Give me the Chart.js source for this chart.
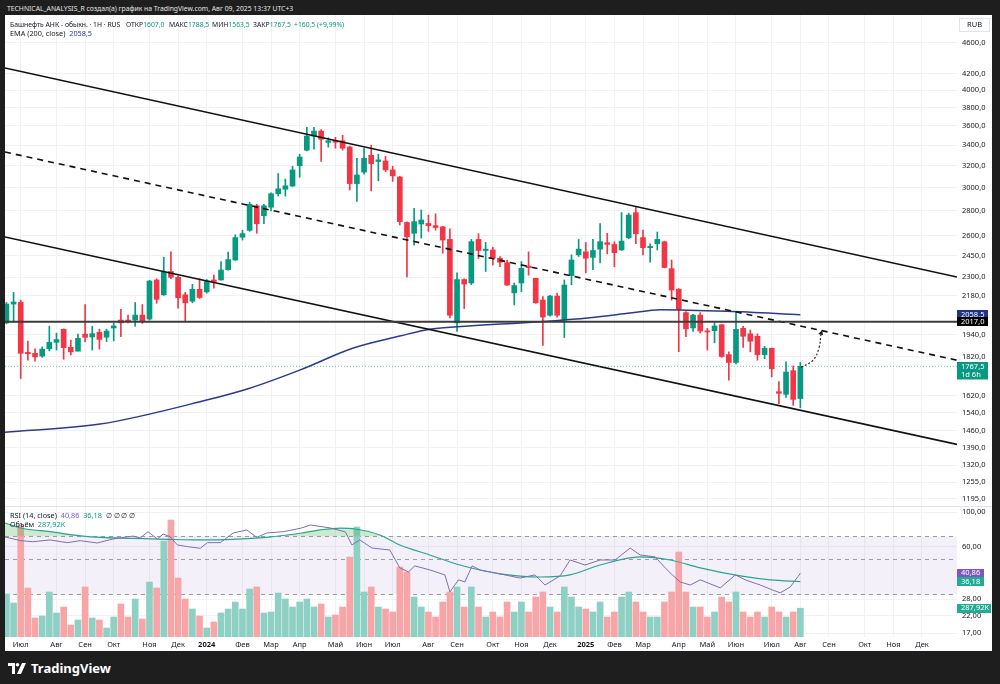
<!DOCTYPE html>
<html>
<head>
<meta charset="utf-8">
<script src="https://cdn.jsdelivr.net/npm/chart.js@4.4.1/dist/chart.umd.min.js"></script>
<style>
  body { margin: 0; width: 1000px; height: 684px; background: #1e1e1e; overflow: hidden; position: relative; font-family: "Noto Sans", sans-serif; }
  #head { position: absolute; left: 7px; top: 4px; color: #e6e6e6; font-size: 6.8px; white-space: pre; }
  #card { position: absolute; left: 5px; top: 15px; width: 987px; height: 636px; background: #fff; }
  #sep { position: absolute; left: 5px; top: 506px; width: 987px; height: 1px; background: #e0e3eb; }
  #main { position: absolute; left: 5px; top: 15px; }
  #lower { position: absolute; left: 5px; top: 507px; }
  .lg { position: absolute; font-size: 7.3px; color: #131722; white-space: pre; }
  .l1 { font-size: 6.8px; top: 19.5px; }
  .g { color: #089981; }
  .b { color: #2a3a8f; }
  .p { color: #7e57c2; }
  #logo { position: absolute; left: 8px; top: 659px; color: #fff; font-size: 13px; font-weight: bold; display: flex; align-items: center; gap: 5px; }
</style>
</head>
<body>
<div id="head">TECHNICAL_ANALYSIS_R создал(а) график на TradingView.com, Авг 09, 2025 13:37 UTC+3</div>
<div id="card"></div>
<canvas id="main" width="987" height="492"></canvas>
<div id="sep"></div>
<canvas id="lower" width="987" height="144"></canvas>
<div class="lg l1" style="left:10px">Башнефть АНК - обыкн. · 1Н · RUS</div>
<div class="lg l1" style="left:126px">ОТКР<span class="g">1607,0</span></div>
<div class="lg l1" style="left:169px">МАКС<span class="g">1788,5</span></div>
<div class="lg l1" style="left:212px">МИН<span class="g">1563,5</span></div>
<div class="lg l1" style="left:253px">ЗАКР<span class="g">1767,5</span></div>
<div class="lg l1 g" style="left:294px">+160,5 (+9,99%)</div>
<div class="lg" style="left:10px;top:28px">EMA (200, close)  <span class="b">2058,5</span></div>
<div class="lg" style="left:10px;top:510px">RSI (14, close)  <span class="p">40,86</span>  <span class="g">36,18</span>  ∅ ∅ ∅ ∅</div>
<div class="lg" style="left:10px;top:519px">Объём  <span class="g">287,92K</span></div>
<div id="logo">
  <svg width="18" height="11" viewBox="0 0 18 11"><path d="M0 0h7v11H4V3H0z" fill="#fff"/><circle cx="9.5" cy="1.8" r="1.8" fill="#fff"/><path d="M14 0h4l-5 11H9z" fill="#fff"/></svg>
  <span>TradingView</span>
</div>

<script>
// Weekly candles, first one is the week of 19 Jun 2023 (index -2), week 0 = 3 Jul 2023
const firstWeek = -2;
const opens = [2010, 2125, 2136, 1842, 1837, 1822, 1862, 1898, 1972, 1870,
  1849, 1944, 1928, 1955, 1927, 1980, 2027, 2027, 2027, 2057,
  2033, 2282, 2184, 2340, 2300, 2184, 2143, 2220, 2203, 2282,
  2282, 2352, 2421, 2590, 2643, 2842, 2760, 2830, 2945, 2985,
  3013, 3200, 3350, 3493, 3545, 3428, 3445, 3445, 3382, 3035,
  3140, 3300, 3240, 3245, 3160, 3095, 2705, 2620, 2693, 2697,
  2680, 2670, 2573, 2010, 2285, 2262, 2573, 2490, 2494, 2434,
  2402, 2197, 2262, 2378, 2293, 2150, 2056, 2176, 2027, 2312,
  2458, 2480, 2440, 2500, 2548, 2535, 2494, 2585, 2785, 2587,
  2511, 2540, 2555, 2360, 2220, 2072, 1980, 2057, 1963, 1964,
  1999, 1830, 1788, 1978, 1946, 1932, 1830, 1865, 1640, 1627,
  1745, 1607];
const highs = [2135, 2200, 2150, 1905, 1862, 1872, 1990, 1950, 1975, 1910,
  1944, 2122, 1990, 1973, 1973, 2008, 2092, 2057, 2135, 2122,
  2280, 2290, 2440, 2480, 2310, 2200, 2253, 2290, 2285, 2315,
  2410, 2478, 2608, 2643, 2870, 2855, 2855, 2952, 3127, 3075,
  3195, 3310, 3585, 3585, 3560, 3475, 3480, 3500, 3390, 3270,
  3370, 3400, 3310, 3290, 3195, 3100, 2710, 2820, 2807, 2765,
  2775, 2675, 2655, 2330, 2290, 2573, 2617, 2550, 2514, 2445,
  2421, 2262, 2410, 2480, 2295, 2172, 2180, 2195, 2282, 2458,
  2573, 2550, 2573, 2697, 2620, 2556, 2785, 2780, 2830, 2645,
  2540, 2630, 2560, 2421, 2225, 2078, 2061, 2072, 1978, 2010,
  2000, 1845, 2078, 1990, 1968, 1946, 1875, 1865, 1690, 1792,
  1770, 1788.5];
const lows = [2005, 2015, 1705, 1800, 1795, 1815, 1850, 1855, 1805, 1828,
  1849, 1900, 1855, 1860, 1902, 1906, 1930, 2010, 1990, 2007,
  2027, 2130, 2180, 2290, 2100, 2020, 2133, 2160, 2195, 2228,
  2280, 2350, 2418, 2568, 2635, 2620, 2695, 2800, 2925, 2925,
  3008, 3092, 3343, 3360, 3240, 3380, 3370, 3350, 2978, 2880,
  3120, 2970, 3060, 3145, 3055, 2685, 2303, 2530, 2583, 2635,
  2645, 2470, 2040, 1960, 2097, 2250, 2432, 2340, 2385, 2373,
  2245, 2120, 2205, 2315, 2130, 1880, 2050, 2045, 1925, 2250,
  2446, 2330, 2352, 2400, 2465, 2373, 2490, 2578, 2540, 2458,
  2405, 2494, 2365, 2150, 1846, 1930, 1960, 1950, 1855, 1895,
  1815, 1697, 1780, 1870, 1845, 1800, 1808, 1713, 1582, 1612,
  1575, 1563.5];
const closes = [2125, 2138, 1837, 1835, 1818, 1860, 1898, 1913, 1868, 1845,
  1920, 1926, 1947, 1914, 1962, 1992, 2010, 2019, 2057, 2021,
  2275, 2155, 2335, 2300, 2165, 2133, 2220, 2167, 2275, 2272,
  2350, 2424, 2587, 2617, 2855, 2695, 2842, 2945, 2988, 3015,
  3160, 3283, 3493, 3545, 3460, 3445, 3430, 3370, 3035, 3113,
  3270, 3220, 3255, 3160, 3105, 2712, 2593, 2712, 2725, 2680,
  2665, 2568, 2056, 2285, 2255, 2556, 2490, 2500, 2434, 2405,
  2248, 2245, 2362, 2367, 2133, 2045, 2176, 2056, 2248, 2421,
  2500, 2434, 2490, 2556, 2535, 2474, 2560, 2765, 2617, 2511,
  2520, 2573, 2368, 2215, 2092, 1975, 2057, 1962, 1957, 1992,
  1820, 1788, 1972, 1932, 1904, 1830, 1865, 1755, 1632, 1738,
  1603, 1767.5];
// Volume in thousands of shares
const volumes = [430, 340, 1120, 490, 190, 210, 450, 240, 300, 120,
  170, 500, 190, 170, 90, 200, 330, 200, 380, 180,
  550, 490, 960, 1170, 590, 380, 280, 210, 90, 150,
  240, 280, 350, 280, 480, 500, 240, 250, 440, 380,
  300, 350, 380, 300, 330, 200, 220, 300, 800, 1100,
  450, 500, 300, 280, 250, 700, 650, 400, 300, 250,
  200, 350, 450, 500, 300, 500, 300, 200, 250, 200,
  350, 250, 350, 250, 400, 450, 300, 250, 500, 400,
  300, 280, 250, 350, 200, 250, 400, 450, 350, 250,
  200, 200, 350, 450, 850, 450, 300, 300, 200, 250,
  400, 350, 450, 250, 200, 250, 200, 300, 250, 200,
  250, 287.92];

// EMA 200 read at a few weeks
const emaWeeks = [-2.2, 11.1, 26, 32, 39, 46.5, 53, 57.2, 61, 72.6, 79.6, 85.2, 89.4, 98.8, 109];
const emaValues = [1455, 1490, 1600, 1657, 1748, 1866, 1933, 1973, 1987, 2017, 2041, 2069, 2090, 2080, 2058.5];

// RSI and its moving average read at a few weeks
const rsiWeeks = [-2.2, 0, 1.7, 4.1, 6.5, 8.3, 10.7, 12.9, 15.7, 16.7, 17.8, 19.1, 19.9, 20.9, 21.9, 23.3,
  25.1, 26.1, 27.9, 29.7, 31.6, 33, 34.4, 36.7, 39.1, 40.5, 43.3, 45.4, 46.3, 47.4, 49.1, 51.6,
  53, 54.2, 55.1, 57.2, 59.3, 60, 61.2, 62.1, 63.1, 64.2, 67, 69.8, 71.9, 73.3, 75.4, 76.8,
  78.9, 81, 83.1, 85.2, 86.6, 88.7, 90.1, 91.1, 92.2, 93.6, 95, 97.8, 99.9, 101.3, 103.4,
  105.1, 106.2, 107.6, 109];
const rsiValues = [69.4, 65.8, 64.8, 66.5, 63.9, 65.8, 63.6, 67.4, 70.4, 68.4, 75.0, 67.4, 72.5, 69.7, 61.8, 60.3,
  58.9, 63.9, 63.9, 73.6, 76.9, 69.1, 73.6, 75.0, 78.8, 82.7, 79.2, 74.7, 61.8, 66.5, 59.1, 57.4,
  44.2, 41.7, 45.5, 42.9, 39.9, 31.1, 37.1, 36.0, 45.5, 42.9, 40.5, 38.1, 39.9, 34.4, 39.3, 49.6,
  46.1, 49.6, 49.6, 59.1, 53.4, 51.9, 44.2, 39.9, 36.0, 34.4, 37.1, 33.0, 39.9, 37.1, 34.4,
  32.0, 30.7, 33.5, 40.86];
const rsiMaWeeks = [-2.2, 0, 4.1, 8.7, 11.1, 15.7, 20.5, 25.1, 29.7, 34.4, 39.1, 41.9, 44.7, 46.8, 50.2,
  53, 57.2, 61.4, 67, 72.6, 76.8, 81, 86.6, 90.8, 95, 100.6, 104.8, 109];
const rsiMaValues = [85.2, 79.2, 75.0, 70.4, 69.1, 68.1, 67.1, 66.5, 67.1, 69.1, 73.3, 77.0, 79.0, 78.0, 71.5,
  61.8, 53.4, 46.1, 40.5, 38.7, 39.9, 46.1, 51.9, 49.6, 44.2, 39.3, 37.1, 36.18];

// Channel lines drawn on the chart (start / end week and price)
const lineWeeks = [-2.2, 130.9];
const upperLine = [4272, 2302];
const middleLine = [3332, 1800];
const lowerLine = [2591, 1403];
const levelPrice = 2017;
const lastPrice = 1767.5;
const arrowWeeks = [109.1, 110.8, 111.6, 111.9];
const arrowPrices = [1762, 1801, 1866, 1950];

// Axis ticks
const priceTicks = [4600, 4200, 4000, 3800, 3600, 3400, 3200, 3000, 2800, 2600, 2450, 2300, 2180,
  1940, 1820, 1620, 1540, 1460, 1390, 1320, 1255, 1195];
const rsiTicks = [100, 60, 28, 22, 17];
const monthWeeks = [0, 5, 9, 13, 18, 22, 26, 31, 35, 39, 44, 48, 52, 57, 61, 66, 70, 74, 79, 83, 87,
  92, 96, 100, 105, 109, 113, 118, 122, 126];
const monthLabels = ['Июл', 'Авг', 'Сен', 'Окт', 'Ноя', 'Дек', '2024', 'Фев', 'Мар', 'Апр', 'Май', 'Июн',
  'Июл', 'Авг', 'Сен', 'Окт', 'Ноя', 'Дек', '2025', 'Фев', 'Мар', 'Апр', 'Май', 'Июн', 'Июл', 'Авг',
  'Сен', 'Окт', 'Ноя', 'Дек'];

const GREEN = '#089981';
const RED = '#f23645';
const GREEN_VOL = '#8fd0c5';
const RED_VOL = '#f8a5a8';
const GRID = '#f1f2f6';
const FONT = '"Noto Sans", sans-serif';
const FS = 7.5;
const X_MIN = -2.2;
const X_MAX = 130.9;
const AXIS_W = 35;

const isUp = closes.map((c, i) => c >= opens[i]);
const wk = i => firstWeek + i;
const comma = (v, d) => v.toFixed(d).replace('.', ',');

// Tags on the price scale
const tagPlugin = {
  id: 'tags',
  afterDraw(chart, args, opts) {
    const ctx = chart.ctx;
    const area = chart.chartArea;
    ctx.save();
    ctx.textBaseline = 'middle';
    ctx.font = FS + 'px ' + FONT;
    if (opts.unit) {
      ctx.strokeStyle = '#e0e3eb';
      ctx.strokeRect(area.right + 2.5, 3.5, 30, 13);
      ctx.fillStyle = '#131722';
      ctx.fillText(opts.unit, area.right + 10, 10);
    }
    (opts.items || []).forEach(t => {
      const y = chart.scales[t.axis].getPixelForValue(t.value);
      const lines = t.text.split('\n');
      const h = 8.5 * lines.length + 0.5;
      ctx.fillStyle = t.bg;
      ctx.fillRect(area.right, Math.round(y - 4.5), t.w, h);
      ctx.fillStyle = '#fff';
      lines.forEach((l, k) => ctx.fillText(l, area.right + 4, y + k * 8.5));
    });
    ctx.restore();
  }
};

// RSI band and dashed levels
const bandPlugin = {
  id: 'band',
  beforeDatasetsDraw(chart) {
    const ctx = chart.ctx;
    const area = chart.chartArea;
    const s = chart.scales.rsi;
    const y70 = s.getPixelForValue(70);
    const y30 = s.getPixelForValue(30);
    ctx.save();
    ctx.fillStyle = 'rgba(126, 87, 194, 0.09)';
    ctx.fillRect(area.left, y70, area.right - area.left, y30 - y70);
    ctx.strokeStyle = '#9a9ca6';
    ctx.lineWidth = 1;
    ctx.setLineDash([4, 4]);
    [70, 50, 30].forEach(v => {
      const y = Math.round(s.getPixelForValue(v)) + 0.5;
      ctx.beginPath();
      ctx.moveTo(area.left, y);
      ctx.lineTo(area.right, y);
      ctx.stroke();
    });
    ctx.restore();
  }
};

function monthTicks(scale) {
  scale.ticks = monthWeeks.filter(w => w >= X_MIN && w <= X_MAX).map(w => ({ value: w }));
}

function fixedWidth(scale) {
  scale.width = AXIS_W;
  scale.paddingTop = 0;
  scale.paddingBottom = 0;
}

function twoPointLine(values, color, width, dash) {
  return {
    type: 'line',
    data: lineWeeks.map((w, i) => ({ x: w, y: values[i] })),
    borderColor: color,
    borderWidth: width,
    borderDash: dash || [],
    pointRadius: 0,
    order: 0
  };
}

// Price pane
function initializeMainChart() {
  const ctx = document.getElementById('main').getContext('2d');
  return new Chart(ctx, {
    type: 'bar',
    data: {
      datasets: [
        {
          data: lows.map((l, i) => ({ x: wk(i), y: [l, highs[i]] })),
          backgroundColor: isUp.map(u => u ? GREEN : RED),
          barThickness: 1,
          grouped: false,
          order: 3
        },
        {
          data: opens.map((o, i) => ({ x: wk(i), y: [o, closes[i]] })),
          backgroundColor: isUp.map(u => u ? GREEN : RED),
          barThickness: 5,
          minBarLength: 1,
          grouped: false,
          order: 2
        },
        {
          type: 'line',
          data: emaWeeks.map((w, i) => ({ x: w, y: emaValues[i] })),
          borderColor: '#2a3a8f',
          borderWidth: 1.5,
          pointRadius: 0,
          cubicInterpolationMode: 'monotone',
          order: 1
        },
        twoPointLine([lastPrice, lastPrice], 'rgba(8,153,129,0.55)', 1, [1, 2]),
        twoPointLine([levelPrice, levelPrice], '#3b3b3b', 2),
        twoPointLine(upperLine, '#111', 1.6),
        twoPointLine(lowerLine, '#111', 1.6),
        twoPointLine(middleLine, '#111', 1.6, [6, 5]),
        {
          type: 'line',
          data: arrowWeeks.map((w, i) => ({ x: w, y: arrowPrices[i] })),
          borderColor: '#222',
          borderWidth: 1.2,
          borderDash: [2, 2],
          pointRadius: arrowWeeks.map((w, i) => i === arrowWeeks.length - 1 ? 3 : 0),
          pointStyle: 'triangle',
          rotation: 15,
          pointBackgroundColor: '#222',
          pointBorderWidth: 0,
          tension: 0.4,
          order: 0
        }
      ]
    },
    options: {
      responsive: false,
      animation: false,
      events: [],
      layout: { padding: 0, autoPadding: false },
      plugins: {
        legend: { display: false },
        tooltip: { enabled: false },
        tags: {
          unit: 'RUB',
          items: [
            { axis: 'y', value: 2058.5, text: '2058,5', bg: '#22318a', w: 31 },
            { axis: 'y', value: 2017, text: '2017,0', bg: '#000', w: 31 },
            { axis: 'y', value: 1767.5, text: '1767,5\n1d 6h', bg: GREEN, w: 31 }
          ]
        }
      },
      scales: {
        x: {
          type: 'linear',
          min: X_MIN,
          max: X_MAX,
          offset: false,
          grid: { color: GRID, drawTicks: false, offset: false },
          border: { display: false },
          ticks: { display: false },
          afterBuildTicks: monthTicks,
          afterFit: s => { s.height = 0; s.paddingLeft = 0; s.paddingRight = 0; }
        },
        y: {
          type: 'logarithmic',
          position: 'right',
          min: 1166,
          max: 4997,
          grid: { color: GRID, drawTicks: false },
          border: { display: false },
          ticks: {
            color: '#131722',
            font: { family: FONT, size: FS },
            padding: 5,
            callback: v => comma(v, 1)
          },
          afterBuildTicks: s => { s.ticks = priceTicks.map(v => ({ value: v })); },
          afterFit: fixedWidth
        }
      }
    },
    plugins: [tagPlugin]
  });
}

// RSI and volume pane
function initializeLowerChart() {
  const ctx = document.getElementById('lower').getContext('2d');
  return new Chart(ctx, {
    type: 'bar',
    data: {
      datasets: [
        {
          data: volumes.map((v, i) => ({ x: wk(i), y: v })),
          backgroundColor: isUp.map(u => u ? GREEN_VOL : RED_VOL),
          barThickness: 6,
          grouped: false,
          yAxisID: 'vol',
          order: 3
        },
        {
          type: 'line',
          data: rsiMaWeeks.map((w, i) => ({ x: w, y: rsiMaValues[i] })),
          borderColor: '#2ba393',
          borderWidth: 1.2,
          pointRadius: 0,
          cubicInterpolationMode: 'monotone',
          fill: { target: { value: 70 }, above: 'rgba(76, 175, 80, 0.28)', below: 'rgba(0,0,0,0)' },
          yAxisID: 'rsi',
          order: 1
        },
        {
          type: 'line',
          data: rsiWeeks.map((w, i) => ({ x: w, y: rsiValues[i] })),
          borderColor: '#7e6fb0',
          borderWidth: 1,
          pointRadius: 0,
          yAxisID: 'rsi',
          order: 0
        }
      ]
    },
    options: {
      responsive: false,
      animation: false,
      events: [],
      layout: { padding: 0, autoPadding: false },
      plugins: {
        legend: { display: false },
        tooltip: { enabled: false },
        tags: {
          items: [
            { axis: 'rsi', value: 40.86, text: '40,86', bg: '#7e57c2', w: 27 },
            { axis: 'rsi', value: 36.18, text: '36,18', bg: '#22ab94', w: 27 },
            { axis: 'vol', value: 287.92, text: '287,92K', bg: '#22ab94', w: 34 }
          ]
        }
      },
      scales: {
        x: {
          type: 'linear',
          min: X_MIN,
          max: X_MAX,
          offset: false,
          grid: { color: GRID, drawTicks: false, offset: false },
          border: { display: false },
          ticks: {
            autoSkip: false,
            maxRotation: 0,
            padding: 3,
            color: '#131722',
            font: c => ({ family: FONT, size: FS, weight: /^\d{4}$/.test(c.tick && c.tick.label) ? 'bold' : 'normal' }),
            callback: v => {
              const i = monthWeeks.indexOf(v);
              return i >= 0 ? monthLabels[i] : '';
            }
          },
          afterBuildTicks: monthTicks,
          afterFit: s => { s.height = 14; s.paddingLeft = 0; s.paddingRight = 0; }
        },
        rsi: {
          type: 'logarithmic',
          position: 'right',
          min: 16.1,
          max: 107.6,
          grid: { color: GRID, drawTicks: false },
          border: { display: false },
          ticks: {
            color: '#131722',
            font: { family: FONT, size: FS },
            padding: 5,
            callback: v => comma(v, 2)
          },
          afterBuildTicks: s => { s.ticks = rsiTicks.map(v => ({ value: v })); },
          afterFit: fixedWidth
        },
        vol: {
          type: 'linear',
          display: false,
          min: 0,
          max: 1300
        }
      }
    },
    plugins: [bandPlugin, tagPlugin]
  });
}

const mainChart = initializeMainChart();
const lowerChart = initializeLowerChart();
</script>
</body>
</html>
